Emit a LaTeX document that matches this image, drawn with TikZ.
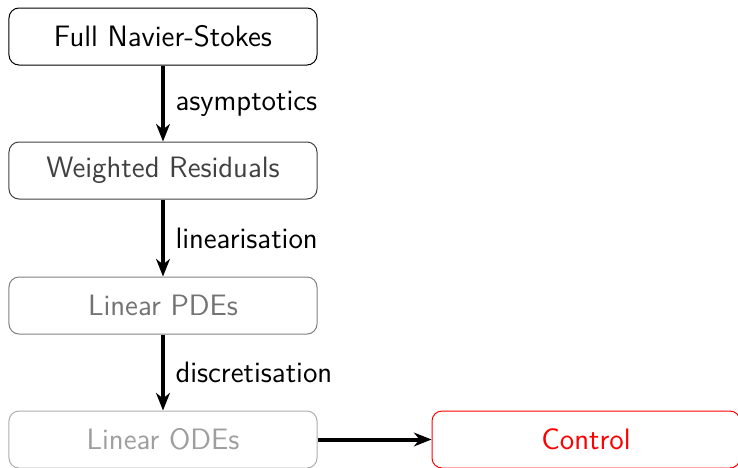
\documentclass[tikz,border=0pt]{standalone}
\usetikzlibrary{arrows.meta}
\begin{document}
\begin{tikzpicture}[x=0.4pt,y=-0.4pt,
  box/.style={draw, rounded corners=4pt, minimum width=123.2pt, minimum height=22.8pt, inner sep=0pt, font=\sffamily\fontsize{11.8}{14}\selectfont},
  arr/.style={line width=1.6pt, -{Stealth[length=7pt,width=5.5pt,inset=2.2pt]}},
  lbl/.style={font=\sffamily\fontsize{11.8}{14}\selectfont, text=black, inner sep=0pt, xshift=4.2pt}]
\useasboundingbox (0,0) rectangle (738,467);
\clip (0,0) rectangle (738,467);
\node[box, draw=black, text=black] (b1) at (163,36.5) {Full Navier-Stokes};
\node[box, draw=black!75, text=black!75] (b2) at (163,170.5) {Weighted Residuals};
\node[box, draw=black!50, text=black!55] (b3) at (163,305.5) {Linear PDEs};
\node[box, draw=black!32, text=black!38] (b4) at (163,439.5) {Linear ODEs};
\node[box, draw=red, text=red] (c) at (586,439.5) {Control};
\draw[arr] (b1) -- node[lbl, right] (l1) {asymptotics} (b2);
\draw[arr] (b2) -- node[lbl, right] (l2) {linearisation} (b3);
\draw[arr] (b3) -- node[lbl, right] (l3) {discretisation} (b4);
\draw[arr] (b4) -- (c);
\end{tikzpicture}
\end{document}
